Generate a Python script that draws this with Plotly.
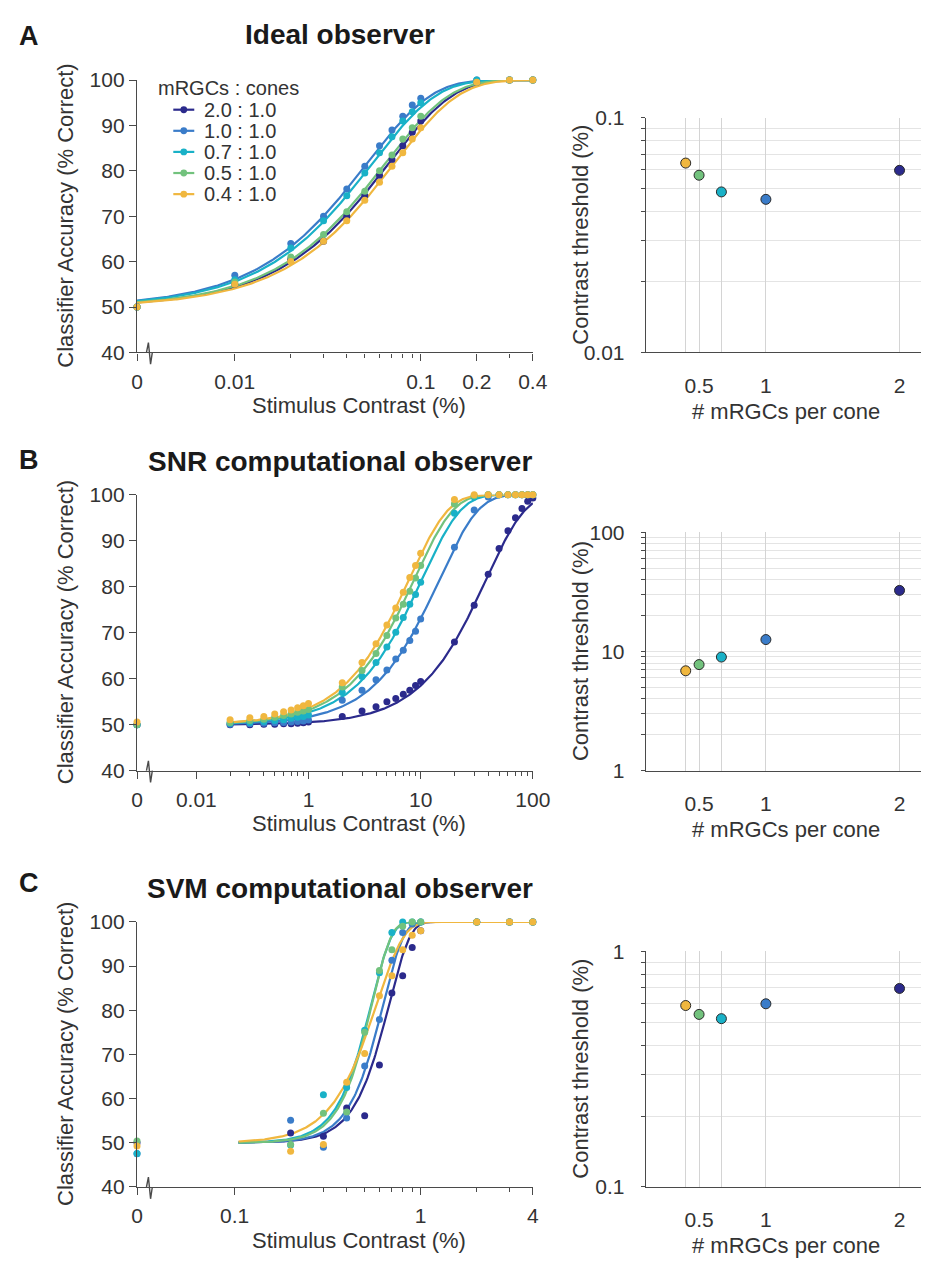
import numpy as np
import plotly.graph_objects as go

W, H = 938, 1268
FONT = "Liberation Sans, Arial, Helvetica, sans-serif"
AXIS = "#4a4a4a"
TXT = "#333333"

# ---- series shared by all panels -------------------------------------------
RATIOS = ["2.0 : 1.0", "1.0 : 1.0", "0.7 : 1.0", "0.5 : 1.0", "0.4 : 1.0"]
COLORS = ["#2b2a8c", "#3a7cc9", "#19b1c7", "#72c27d", "#f0b73f"]
MRGC_PER_CONE = [2.0, 1.0, 0.667, 0.5, 0.4]

# ---- A: ideal observer ------------------------------------------------------
A_CONTRAST = [0, 0.01, 0.02, 0.03, 0.04, 0.05, 0.06, 0.07, 0.08, 0.09, 0.1, 0.2, 0.3, 0.4]
A_ACC_20 = [50, 55, 60.5, 64.5, 70, 74.5, 79, 82.5, 85.5, 88.5, 91, 99.5, 100, 100]
A_ACC_10 = [50, 57, 64, 70, 76, 81, 85.5, 89, 92, 94.5, 96, 100, 100, 100]
A_ACC_07 = [50, 56, 63, 69, 74.5, 79.5, 84, 87.5, 91, 93, 95, 100, 100, 100]
A_ACC_05 = [50, 55.5, 61, 66, 71, 75.5, 80, 83.5, 87, 89.5, 92, 99.5, 100, 100]
A_ACC_04 = [50, 55, 60, 64.5, 69, 73.5, 77.5, 81, 84, 87, 89.5, 99.5, 100, 100]
A_FIT_ALPHA = [0.0672, 0.0513, 0.0548, 0.0644, 0.0719]
A_FIT_BETA = [1.25, 1.25, 1.25, 1.25, 1.25]
A_THRESH = [0.0597, 0.0449, 0.0483, 0.0569, 0.0641]

# ---- B: SNR computational observer -----------------------------------------
B_CONTRAST = [0, 0.2, 0.3, 0.4, 0.5, 0.6, 0.7, 0.8, 0.9, 1,
              2, 3, 4, 5, 6, 7, 8, 9, 10,
              20, 30, 40, 50, 60, 70, 80, 90, 100]
B_ACC_20 = [50, 50, 50, 50.1, 50.1, 50.2, 50.2, 50.3, 50.4, 50.6,
            51.8, 53, 53.9, 55, 55.7, 56.6, 57.5, 58.5, 59.4,
            68, 76, 82.7, 88.3, 92.2, 95, 97, 98.6, 99.3]
B_ACC_10 = [50, 50.1, 50.2, 50.3, 50.4, 50.5, 50.6, 50.7, 50.8, 51,
            55.3, 57.5, 59.8, 61.9, 64.3, 66.2, 68.3, 70.3, 73,
            88.6, 96.7, 99.5, 100, 100, 100, 100, 100, 100]
B_ACC_07 = [50, 50.3, 50.5, 50.7, 50.9, 51.1, 51.4, 51.6, 51.8, 52.1,
            57, 60.5, 63.5, 66.9, 70.1, 73.3, 76.2, 78.3, 81,
            96, 99.5, 100, 100, 100, 100, 100, 100, 100]
B_ACC_05 = [50, 50.5, 50.9, 51.2, 51.6, 52, 52.3, 52.7, 53, 53.3,
            58.2, 61.8, 65.5, 69.4, 73.2, 76.2, 79, 81.9, 84.6,
            98, 99.8, 100, 100, 100, 100, 100, 100, 100]
B_ACC_04 = [50.6, 51.1, 51.5, 51.8, 52.3, 52.8, 53.2, 53.7, 54.1, 54.6,
            59.1, 63.5, 67.6, 71.7, 75.4, 78.8, 82, 84.6, 87.3,
            99, 100, 100, 100, 100, 100, 100, 100, 100]
B_FIT_ALPHA = [38.4, 14.7, 10.27, 8.77, 7.9]
B_FIT_BETA = [1.25, 1.25, 1.25, 1.25, 1.25]
B_THRESH = [32.6, 12.6, 8.99, 7.77, 6.89]

# ---- C: SVM computational observer -----------------------------------------
C_CONTRAST = [0, 0.2, 0.3, 0.4, 0.5, 0.6, 0.7, 0.8, 0.9, 1, 2, 3, 4]
C_ACC_20 = [50, 52.2, 51.5, 57.9, 56.1, 67.6, 83.9, 87.8, 94.2, 98, 100, 100, 100]
C_ACC_10 = [47.5, 55.1, 49, 55.6, 67.4, 77.9, 91.3, 97.6, 99.5, 100, 100, 100, 100]
C_ACC_07 = [47.6, 49.5, 60.9, 62.5, 75.5, 88.5, 97.6, 100, 100, 100, 100, 100, 100]
C_ACC_05 = [50.4, 49.6, 56.7, 57, 75, 89, 93.7, 99, 100, 100, 100, 100, 100]
C_ACC_04 = [49.3, 48.1, 49.6, 63.7, 70.2, 83.3, 87.8, 93.7, 97, 98, 100, 100, 100]
C_FIT_ALPHA = [0.679, 0.631, 0.544, 0.548, 0.582]
C_FIT_BETA = [3.9, 4.0, 4.0, 4.2, 3.0]
C_THRESH = [0.696, 0.599, 0.518, 0.540, 0.589]

# ---- axis ticks --------------------------------------------------------------
A_XTICKS = [0.01, 0.1, 0.2, 0.4]
A_XTICKTEXT = ["0.01", "0.1", "0.2", "0.4"]
A_XMINOR = [0.02, 0.03, 0.04, 0.05, 0.06, 0.07, 0.08, 0.09, 0.3]
B_XTICKS = [0.1, 1, 10, 100]
B_XTICKTEXT = ["0.01", "1", "10", "100"]
B_XMINOR = [0.2, 0.3, 0.4, 0.5, 0.6, 0.7, 0.8, 0.9, 2, 3, 4, 5, 6, 7, 8, 9,
            20, 30, 40, 50, 60, 70, 80, 90]
C_XTICKS = [0.1, 1, 4]
C_XTICKTEXT = ["0.1", "1", "4"]
C_XMINOR = [0.2, 0.3, 0.4, 0.5, 0.6, 0.7, 0.8, 0.9, 2, 3]
ACC_TICKS = [40, 50, 60, 70, 80, 90, 100]
MRGC_TICKTEXT = ["2", "1", "", "0.5", ""]

panels = [
    dict(key="A", title="Ideal observer", contrast=A_CONTRAST,
         acc=[A_ACC_20, A_ACC_10, A_ACC_07, A_ACC_05, A_ACC_04],
         alpha=A_FIT_ALPHA, beta=A_FIT_BETA, thresh=A_THRESH,
         zero=0.00298, xmax=0.4, fit_start=0.00298,
         xt=A_XTICKS, xtt=A_XTICKTEXT, xminor=A_XMINOR, tdec=(-2, -1),
         top=69.3, bottom=346.7, rtop=107.7, y_letter=24, y_title=23),
    dict(key="B", title="SNR computational observer", contrast=B_CONTRAST,
         acc=[B_ACC_20, B_ACC_10, B_ACC_07, B_ACC_05, B_ACC_04],
         alpha=B_FIT_ALPHA, beta=B_FIT_BETA, thresh=B_THRESH,
         zero=0.0296, xmax=100, fit_start=0.2,
         xt=B_XTICKS, xtt=B_XTICKTEXT, xminor=B_XMINOR, tdec=(0, 2),
         top=491.7, bottom=772.7, rtop=530.0, y_letter=456, y_title=457.5),
    dict(key="C", title="SVM computational observer", contrast=C_CONTRAST,
         acc=[C_ACC_20, C_ACC_10, C_ACC_07, C_ACC_05, C_ACC_04],
         alpha=C_FIT_ALPHA, beta=C_FIT_BETA, thresh=C_THRESH,
         zero=0.0299, xmax=4, fit_start=0.105,
         xt=C_XTICKS, xtt=C_XTICKTEXT, xminor=C_XMINOR, tdec=(-1, 0),
         top=926.7, bottom=1196.7, rtop=956.7, y_letter=887.5, y_title=893),
]


def fx(p):
    return p / W


def fy(p):
    return 1 - p / H


def weibull(c, a, b):
    """Psychometric fit: 50 % chance floor rising to 100 % correct."""
    return 50 + 50 * (1 - np.exp(-(c / a) ** b))


TICKFONT = dict(family=FONT, size=21, color=TXT)
LABELFONT = dict(family=FONT, size=22, color=TXT)
fig = go.Figure()
annotations = []
shapes = []
layout = {}

for i, p in enumerate(panels):
    ln, rn = 2 * i + 1, 2 * i + 2
    lx, ly = ("x" if ln == 1 else f"x{ln}"), ("y" if ln == 1 else f"y{ln}")
    rx, ry = f"x{rn}", f"y{rn}"
    # zero contrast sits at the left end of the broken log axis
    xpos = [p["zero"] if c == 0 else c for c in p["contrast"]]

    for s in range(5):
        cfit = np.logspace(np.log10(p["fit_start"]), np.log10(p["xmax"]), 300)
        fig.add_trace(go.Scatter(x=cfit, y=weibull(cfit, p["alpha"][s], p["beta"][s]),
                                 mode="lines", line=dict(color=COLORS[s], width=2.2),
                                 xaxis=lx, yaxis=ly, showlegend=False, hoverinfo="skip",
                                 cliponaxis=False))
    for s in range(5):
        fig.add_trace(go.Scatter(x=xpos, y=p["acc"][s], mode="markers",
                                 marker=dict(color=COLORS[s], size=7),
                                 xaxis=lx, yaxis=ly, showlegend=False, name=RATIOS[s],
                                 cliponaxis=False))

    fig.add_trace(go.Scatter(x=MRGC_PER_CONE, y=p["thresh"], mode="markers",
                             marker=dict(color=COLORS, size=10,
                                         line=dict(color="#2a2a2a", width=1)),
                             xaxis=rx, yaxis=ry, showlegend=False, cliponaxis=False))

    # left panel axes (a hair of slack keeps the last column of points in view)
    lxa = "xaxis" if ln == 1 else f"xaxis{ln}"
    lya = "yaxis" if ln == 1 else f"yaxis{ln}"
    layout[lxa] = dict(
        domain=[fx(134.3), fx(540.2)], anchor=ly, type="log",
        range=[np.log10(p["zero"]), np.log10(p["xmax"]) + 0.001],
        tickmode="array", tickvals=[p["zero"]] + p["xt"], ticktext=["0"] + p["xtt"],
        ticks="outside", ticklen=7, tickwidth=1.3, tickcolor=AXIS,
        minor=dict(tickmode="array", tickvals=p["xminor"], ticks="outside",
                   ticklen=4, tickwidth=1.3, tickcolor=AXIS, showgrid=False),
        showline=True, linecolor=AXIS, linewidth=1.4, showgrid=False, zeroline=False,
        tickfont=TICKFONT, ticklabelstandoff=3)
    layout[lya] = dict(
        domain=[fy(p["bottom"]), fy(p["top"])], anchor=lx, range=[40, 100],
        tickmode="array", tickvals=ACC_TICKS, ticks="outside", ticklen=7,
        tickwidth=1.3, tickcolor=AXIS, showline=True, linecolor=AXIS, linewidth=1.4,
        showgrid=False, zeroline=False, tickfont=TICKFONT, ticklabelstandoff=0)

    # right panel axes
    d0, d1 = p["tdec"]
    majors = [10.0 ** k for k in range(d0, d1 + 1)]
    minors = [m * 10.0 ** k for k in range(d0, d1) for m in range(2, 10)]
    layout[f"xaxis{rn}"] = dict(
        domain=[fx(656), 1.0], anchor=ry, range=[0.1022, 2.1606],
        tickmode="array", tickvals=MRGC_PER_CONE, ticktext=MRGC_TICKTEXT, ticks="",
        showgrid=True, gridcolor="#d4d4d4", gridwidth=1.2,
        showline=True, linecolor=AXIS, linewidth=1.4, zeroline=False,
        tickfont=TICKFONT, ticklabelstandoff=14)
    layout[f"yaxis{rn}"] = dict(
        domain=[fy(p["bottom"]), fy(p["rtop"])], anchor=rx, type="log",
        range=[d0, d1], tickmode="array", tickvals=majors,
        ticktext=[f"{v:g}" for v in majors], ticks="outside", ticklen=4,
        tickwidth=1.2, tickcolor=AXIS, showgrid=True, gridcolor="#e4e4e4",
        minor=dict(tickmode="array", tickvals=minors, ticks="outside", ticklen=4,
                   tickwidth=1.2, tickcolor=AXIS, showgrid=True, gridcolor="#e4e4e4"),
        showline=True, linecolor=AXIS, linewidth=1.4, zeroline=False,
        tickfont=TICKFONT, ticklabelstandoff=12)

    # axis break on the contrast axis
    bx, by = 147.0, p["bottom"]
    shapes.append(dict(type="path", xref="paper", yref="paper",
                       path=(f"M {fx(bx - 3)},{fy(by)} L {fx(bx - 1)},{fy(by - 10)} "
                             f"L {fx(bx + 1.2)},{fy(by + 12)} L {fx(bx + 3)},{fy(by)}"),
                       line=dict(color=AXIS, width=1.4)))

    # titles and labels
    annotations += [
        dict(text=f"<b>{p['key']}</b>", x=fx(11), y=fy(p["y_letter"]), xanchor="left",
             yanchor="middle", font=dict(family=FONT, size=27, color="#1a1a1a")),
        dict(text=f"<b>{p['title']}</b>", x=fx(342), y=fy(p["y_title"]), xanchor="center",
             yanchor="middle", font=dict(family=FONT, size=28, color="#1a1a1a")),
        dict(text="Classifier Accuracy (% Correct)", x=fx(61), textangle=-90,
             y=fy((p["top"] + p["bottom"]) / 2), xanchor="center", yanchor="middle",
             font=LABELFONT),
        dict(text="Stimulus Contrast (%)", x=fx(362), y=fy(p["bottom"] + 54),
             xanchor="center", yanchor="middle", font=LABELFONT),
        dict(text="Contrast threshold (%)", x=fx(589), textangle=-90,
             y=fy((p["rtop"] + p["bottom"]) / 2), xanchor="center", yanchor="middle",
             font=LABELFONT),
        dict(text="# mRGCs per cone", x=fx(800), y=fy(p["bottom"] + 60),
             xanchor="center", yanchor="middle", font=LABELFONT),
    ]

# legend for the mRGC : cone ratios inside panel A
annotations.append(dict(text="mRGCs : cones", x=fx(154), y=fy(77.5), xanchor="left",
                        yanchor="middle", font=dict(family=FONT, size=20, color=TXT)))
for s in range(5):
    ry_ = 99.5 + 21.5 * s
    shapes.append(dict(type="line", xref="paper", yref="paper", x0=fx(171.5), x1=fx(193),
                       y0=fy(ry_), y1=fy(ry_), line=dict(color=COLORS[s], width=2.2)))
    shapes.append(dict(type="circle", xref="paper", yref="paper", x0=fx(178.8), x1=fx(185.7),
                       y0=fy(ry_ + 3.5), y1=fy(ry_ - 3.5), fillcolor=COLORS[s],
                       line=dict(width=0)))
    annotations.append(dict(text=RATIOS[s], x=fx(201), y=fy(ry_), xanchor="left",
                            yanchor="middle", font=dict(family=FONT, size=20, color=TXT)))

for a in annotations:
    a.update(xref="paper", yref="paper", showarrow=False)

fig.update_layout(width=W, height=H, margin=dict(l=0, r=0, t=0, b=0), autosize=False,
                  paper_bgcolor="white", plot_bgcolor="white", showlegend=False,
                  font=dict(family=FONT, color=TXT), annotations=annotations,
                  shapes=shapes, **layout)

fig.write_html("out.html")
